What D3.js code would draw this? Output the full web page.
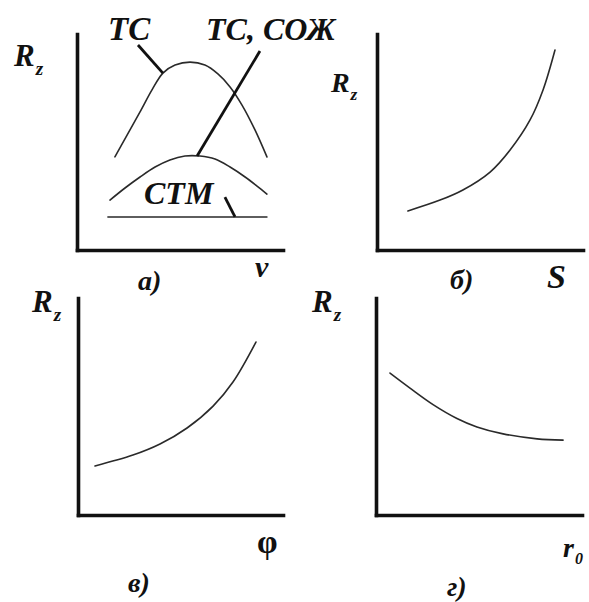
<!DOCTYPE html>
<html>
<head>
<meta charset="utf-8">
<script src="https://cdn.jsdelivr.net/npm/d3@7"></script>
<style>
  html, body { margin: 0; padding: 0; background: #fff; }
  svg text {
    font-family: "Liberation Serif", "Times New Roman", serif;
    font-weight: bold;
    fill: #111;
  }
</style>
</head>
<body>
<svg id="chart" width="589" height="602"></svg>
<script>
// Qualitative curves, relative units 0–10 on both axes.

// а) Rz vs cutting speed v
const tcX    = [1.84, 2.43, 3.06, 3.64, 4.17, 4.76, 5.49, 6.21, 6.84, 7.43, 8.01, 8.64, 9.22];
const tcY    = [4.31, 5.32, 6.39, 7.41, 8.19, 8.56, 8.70, 8.56, 8.15, 7.55, 6.71, 5.56, 4.31];
const tcCoolX = [1.60, 2.33, 3.06, 3.79, 4.51, 5.24, 5.97, 6.70, 7.43, 8.16, 8.74, 9.22];
const tcCoolY = [2.31, 2.87, 3.38, 3.84, 4.17, 4.35, 4.35, 4.21, 3.84, 3.38, 2.96, 2.59];
const stmX   = [1.50, 9.22];
const stmY   = [1.53, 1.53];

// б) Rz vs feed S
const feedX  = [1.50, 3.06, 4.17, 5.49, 6.46, 7.43, 8.06, 8.64];
const feedY  = [1.81, 2.31, 2.78, 3.61, 4.63, 6.02, 7.41, 9.26];

// в) Rz vs approach angle φ
const phiX   = [0.83, 2.68, 4.00, 5.32, 6.59, 7.56, 8.68];
const phiY   = [2.26, 2.76, 3.27, 4.01, 5.02, 6.13, 7.97];

// г) Rz vs nose radius r0
const radX   = [0.68, 1.65, 2.77, 3.93, 4.90, 6.17, 7.82, 9.08];
const radY   = [6.54, 5.85, 5.09, 4.45, 4.06, 3.74, 3.51, 3.45];

// Leader lines of panel а): [x1, y1, x2, y2] in the same units
const leaderTC     = [2.96, 9.49, 4.17, 8.19];
const leaderTCCool = [8.88, 9.21, 5.83, 4.35];
const leaderSTM    = [7.18, 2.45, 7.67, 1.53];

const zip = (xs, ys) => xs.map((x, i) => [x, ys[i]]);

const svg = d3.select("#chart");
svg.append("rect").attr("width", 589).attr("height", 602).attr("fill", "#fff");

function makePanel(frame) {
  const x = d3.scaleLinear().domain([0, 10]).range([frame.left, frame.right]);
  const y = d3.scaleLinear().domain([0, 10]).range([frame.bottom, frame.top]);
  const g = svg.append("g");

  const styleAxis = sel => {
    sel.select(".domain")
      .attr("stroke", "#111")
      .attr("stroke-width", 3.6)
      .attr("stroke-linecap", "square");
  };
  g.append("g")
    .attr("transform", `translate(0,${frame.bottom})`)
    .call(d3.axisBottom(x).tickValues([]).tickSizeOuter(0))
    .call(styleAxis);
  g.append("g")
    .attr("transform", `translate(${frame.left},0)`)
    .call(d3.axisLeft(y).tickValues([]).tickSizeOuter(0))
    .call(styleAxis);

  const line = d3.line().x(d => x(d[0])).y(d => y(d[1])).curve(d3.curveCatmullRom.alpha(0.5));
  const drawCurve = (xs, ys) =>
    g.append("path")
      .attr("d", line(zip(xs, ys)))
      .attr("fill", "none")
      .attr("stroke", "#2a2a2a")
      .attr("stroke-width", 1.6)
      .attr("stroke-linecap", "round");
  const drawLeader = l =>
    g.append("line")
      .attr("x1", x(l[0])).attr("y1", y(l[1]))
      .attr("x2", x(l[2])).attr("y2", y(l[3]))
      .attr("stroke", "#111")
      .attr("stroke-width", 2.8);
  const text = (str, px, py, size, italic = true) =>
    g.append("text").attr("x", px).attr("y", py)
      .style("font-size", size + "px")
      .style("font-style", italic ? "italic" : "normal")
      .text(str);
  return { g, x, y, drawCurve, drawLeader, text };
}

// Rz label with subscript z
function rzLabel(p, px, py, size) {
  p.text("R", px, py, size);
  p.text("z", px + size * 0.7, py + size * 0.3, size * 0.62);
}

// а)
const pa = makePanel({ left: 77, right: 283, top: 34, bottom: 250 });
pa.drawCurve(tcX, tcY);
pa.drawCurve(tcCoolX, tcCoolY);
pa.drawCurve(stmX, stmY);
pa.drawLeader(leaderTC);
pa.drawLeader(leaderTCCool);
pa.drawLeader(leaderSTM);
pa.text("ТС", 108, 40, 33);
pa.text("ТС, СОЖ", 206, 40, 32);
pa.text("СТМ", 144, 204, 32);
rzLabel(pa, 14, 66, 31);
pa.text("а)", 138, 290, 28);
pa.text("v", 255, 277, 30);

// б)
const pb = makePanel({ left: 377, right: 583, top: 34, bottom: 250 });
pb.drawCurve(feedX, feedY);
rzLabel(pb, 331, 92, 28);
pb.text("б)", 450, 289, 28);
pb.text("S", 547, 288, 34);

// в)
const pc = makePanel({ left: 78, right: 283, top: 298, bottom: 515 });
pc.drawCurve(phiX, phiY);
rzLabel(pc, 32, 312, 31);
pc.text("φ", 257, 553, 33, false);
pc.text("в)", 128, 592, 28);

// г)
const pd = makePanel({ left: 376, right: 582, top: 298, bottom: 515 });
pd.drawCurve(radX, radY);
rzLabel(pd, 312, 312, 31);
pd.text("r", 563, 557, 28);
pd.text("0", 575, 564, 16);
pd.text("г)", 447, 596, 28);
</script>
</body>
</html>
